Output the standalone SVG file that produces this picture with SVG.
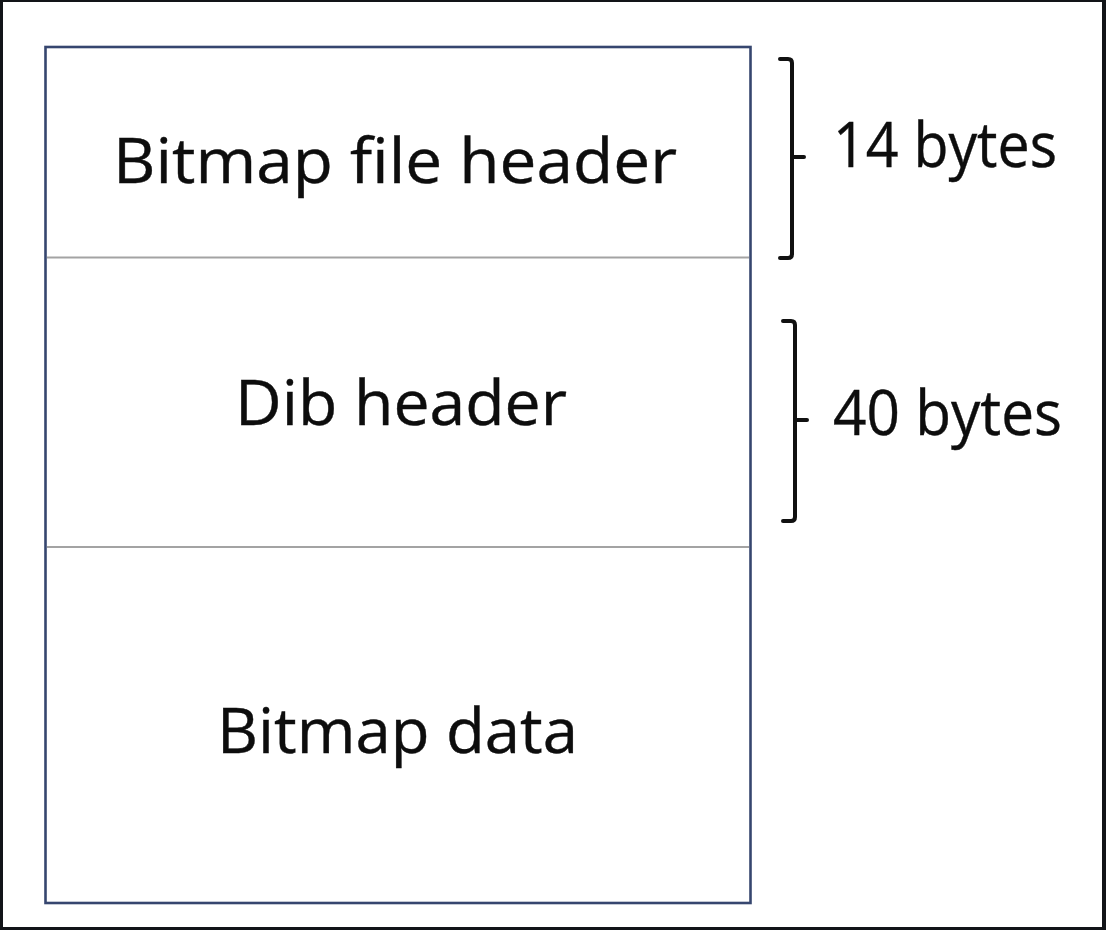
<svg xmlns="http://www.w3.org/2000/svg" width="1106" height="930" viewBox="0 0 1106 930">
<style>
.lbl{font-family:"Open Sans","Noto Sans","Liberation Sans",sans-serif;font-size:62px;fill:#0d0d0d;stroke:#0d0d0d;stroke-width:0.4;}
.brace{fill:none;stroke:#111;stroke-width:4;stroke-linecap:round;stroke-linejoin:round;}
.div{stroke:#a3a3a3;stroke-width:1.8;}
</style>
<rect x="0" y="0" width="1106" height="930" fill="#fff"/>
<path d="M0,0H1106V930H0Z M3,2V927H1102V2Z" fill="#121418" fill-rule="evenodd"/>
<g id="box">
<rect x="45.5" y="47" width="705" height="856" fill="#fff" stroke="#36466f" stroke-width="2.6"/>
</g>
<g id="dividers">
<line class="div" x1="47" y1="257.5" x2="749" y2="257.5"/>
<line class="div" x1="47" y1="547" x2="749" y2="547"/>
</g>
<g id="node-file-header">
<text class="lbl" x="395" y="183" text-anchor="middle" textLength="564" lengthAdjust="spacingAndGlyphs">Bitmap file header</text>
</g>
<g id="node-dib-header">
<text class="lbl" x="401" y="425" text-anchor="middle" textLength="332" lengthAdjust="spacingAndGlyphs">Dib header</text>
</g>
<g id="node-bitmap-data">
<text class="lbl" x="397.5" y="753" text-anchor="middle" textLength="361" lengthAdjust="spacingAndGlyphs">Bitmap data</text>
</g>
<g id="brace-14">
<path class="brace" d="M780,59 H788 Q792,59 792,63 V157 M792,157 H804 M792,157 V254 Q792,258 788,258 H780"/>
<text class="lbl" x="833" y="167" textLength="224" lengthAdjust="spacingAndGlyphs">14 bytes</text>
</g>
<g id="brace-40">
<path class="brace" d="M783,321 H791 Q795,321 795,325 V420 M795,420 H807 M795,420 V517 Q795,521 791,521 H783"/>
<text class="lbl" x="833" y="435" textLength="229" lengthAdjust="spacingAndGlyphs">40 bytes</text>
</g>
</svg>
